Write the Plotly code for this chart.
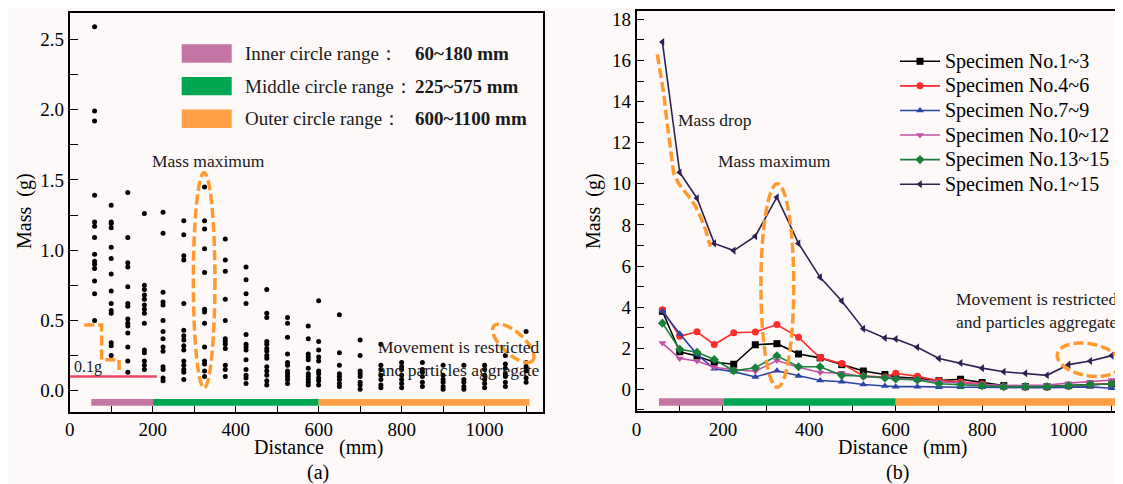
import numpy as np
import plotly.graph_objects as go

# page is 1123x484; the html body adds an 8px margin, so the figure is 1115x476
OFF = 8
FW, FH = 1123 - OFF, 484 - OFF
FONT = "Liberation Serif"
BG = "#fcf9f8"

# ---------------- data ----------------
distance = [60, 100, 140, 180, 225, 275, 325, 375, 425, 475, 525, 575, 600,
            650, 700, 750, 800, 850, 900, 950, 1000, 1050, 1100]

# (a) individual particle masses (g) collected at each distance
mass_points = [
    [2.59, 1.99, 1.92, 1.39, 1.20, 1.17, 1.09, 0.97, 0.92, 0.90, 0.87, 0.78, 0.69, 0.50],
    [1.32, 1.20, 1.19, 1.16, 1.02, 0.94, 0.83, 0.71, 0.62, 0.57, 0.55, 0.34, 0.32, 0.25],
    [1.41, 1.09, 0.91, 0.88, 0.74, 0.62, 0.60, 0.51, 0.48, 0.46, 0.41, 0.31, 0.21, 0.13],
    [1.26, 0.75, 0.72, 0.68, 0.65, 0.61, 0.58, 0.55, 0.48, 0.29, 0.27, 0.21, 0.18, 0.15],
    [1.27, 1.12, 0.70, 0.63, 0.61, 0.50, 0.42, 0.37, 0.31, 0.28, 0.17, 0.15, 0.09, 0.07],
    [1.21, 1.11, 0.96, 0.93, 0.62, 0.43, 0.39, 0.36, 0.32, 0.29, 0.21, 0.18, 0.15, 0.13, 0.08],
    [1.45, 1.21, 1.15, 1.01, 0.84, 0.58, 0.56, 0.48, 0.31, 0.21, 0.19, 0.14, 0.10],
    [1.08, 0.93, 0.85, 0.65, 0.50, 0.37, 0.35, 0.33, 0.30, 0.18, 0.15, 0.10],
    [0.88, 0.79, 0.69, 0.62, 0.40, 0.33, 0.31, 0.29, 0.22, 0.15, 0.11, 0.09, 0.05],
    [0.72, 0.55, 0.52, 0.35, 0.33, 0.30, 0.28, 0.25, 0.23, 0.17, 0.14, 0.11, 0.07, 0.04],
    [0.52, 0.48, 0.38, 0.26, 0.20, 0.18, 0.14, 0.12, 0.10, 0.08, 0.05],
    [0.46, 0.37, 0.26, 0.24, 0.22, 0.16, 0.12, 0.10, 0.08, 0.06, 0.04],
    [0.64, 0.35, 0.29, 0.24, 0.21, 0.14, 0.12, 0.09, 0.07, 0.04],
    [0.54, 0.27, 0.18, 0.12, 0.10, 0.08, 0.05, 0.03],
    [0.36, 0.25, 0.14, 0.12, 0.10, 0.06, 0.04, 0.01],
    [0.33, 0.18, 0.15, 0.11, 0.08, 0.04, 0.02],
    [0.20, 0.17, 0.15, 0.11, 0.08, 0.05, 0.02],
    [0.20, 0.15, 0.13, 0.10, 0.06, 0.03],
    [0.18, 0.11, 0.08, 0.06, 0.03, 0.01],
    [0.18, 0.08, 0.06, 0.03, 0.01],
    [0.18, 0.15, 0.11, 0.08, 0.05, 0.02],
    [0.25, 0.19, 0.16, 0.12, 0.10, 0.06, 0.03],
    [0.42, 0.20, 0.17, 0.14, 0.09, 0.06],
]

# (b) summed mass per specimen group (g)
spec_1_3 = [3.80, 1.83, 1.62, 1.32, 1.22, 2.17, 2.22, 1.72, 1.53, 1.20, 0.89, 0.72,
            0.60, 0.53, 0.42, 0.49, 0.33, 0.18, 0.13, 0.13, 0.18, 0.22, 0.27]
spec_4_6 = [3.87, 2.58, 2.80, 2.18, 2.75, 2.79, 3.15, 2.53, 1.53, 1.25, 0.65, 0.60,
            0.78, 0.63, 0.42, 0.36, 0.26, 0.13, 0.10, 0.10, 0.15, 0.20, 0.28]
spec_7_9 = [3.80, 2.70, 1.70, 1.00, 0.86, 0.60, 0.90, 0.65, 0.43, 0.37, 0.23, 0.16,
            0.13, 0.13, 0.10, 0.10, 0.10, 0.08, 0.08, 0.08, 0.10, 0.12, 0.05]
spec_10_12 = [2.25, 1.50, 1.38, 1.07, 0.95, 0.88, 1.40, 1.07, 0.82, 0.80, 0.60, 0.58,
              0.53, 0.48, 0.37, 0.32, 0.24, 0.18, 0.18, 0.21, 0.30, 0.37, 0.45]
spec_13_15 = [3.22, 1.95, 1.80, 1.45, 0.90, 1.05, 1.63, 1.10, 1.10, 0.68, 0.65, 0.55,
              0.50, 0.45, 0.27, 0.22, 0.18, 0.13, 0.13, 0.13, 0.18, 0.24, 0.27]
spec_1_15 = [16.9, 10.55, 9.30, 7.10, 6.75, 7.45, 9.35, 7.10, 5.45, 4.30, 2.95, 2.50,
             2.45, 2.05, 1.50, 1.28, 1.03, 0.85, 0.78, 0.68, 1.20, 1.38, 1.64]

series_names = ["Specimen No.1~3", "Specimen No.4~6", "Specimen No.7~9",
                "Specimen No.10~12", "Specimen No.13~15", "Specimen No.1~15"]

range_names = ["Inner circle range：", "Middle circle range：", "Outer circle range："]
range_labels = ["60~180 mm", "225~575 mm", "600~1100 mm"]
range_bounds = [52, 201, 600, 1108]

# ---------------- style ----------------
series_colors = ["#000000", "#ff2a2a", "#2b44a6", "#c24fa8", "#17803a", "#2d2152"]
series_symbols = ["square", "circle", "triangle-up", "triangle-down", "diamond", "triangle-left"]
range_colors = ["#c475a3", "#00a651", "#ff9f43"]
ORANGE = "#ff9a30"
DASH = "10px,4px"

# axis geometry (pixels in the 1123x484 screenshot)
LX0, LX1, LY0, LY1 = 69.7, 542.7, 12.7, 411.7
RX0, RX1, RY0, RY1 = 636.5, 1123.0, 11.0, 411.0
L_XR, L_YR = [0, 1140], [-0.15, 2.69]
R_XR, R_YR = [0, 1126], [-1.056, 18.41]


def px(x):
    return (x - OFF) / FW


def py(y):
    return 1 - (y - OFF) / FH


def ellipse_path(cx, cy, a_px, b_px, ang_deg, x0, x1, y0, y1, xr, yr):
    sx = (x1 - x0) / (xr[1] - xr[0])
    sy = (y1 - y0) / (yr[1] - yr[0])
    t = np.linspace(0, 2 * np.pi, 73)
    ang = np.radians(ang_deg)
    dx = a_px * np.cos(t) * np.cos(ang) - b_px * np.sin(t) * np.sin(ang)
    dy = a_px * np.cos(t) * np.sin(ang) + b_px * np.sin(t) * np.cos(ang)
    xs = cx + dx / sx
    ys = cy + dy / sy
    return "M " + " L ".join(f"{a:.3f},{b:.4f}" for a, b in zip(xs, ys)) + " Z"


fig = go.Figure()

# (a) scatter
xs_a, ys_a = [], []
for d, col in zip(distance, mass_points):
    xs_a += [d] * len(col)
    ys_a += col
fig.add_trace(go.Scatter(x=xs_a, y=ys_a, mode="markers",
                         marker=dict(color="black", size=5),
                         xaxis="x", yaxis="y", showlegend=False))

# (b) lines
for name, vals, c, s in zip(series_names,
                            [spec_1_3, spec_4_6, spec_7_9, spec_10_12, spec_13_15, spec_1_15],
                            series_colors, series_symbols):
    fig.add_trace(go.Scatter(x=distance, y=vals, mode="lines+markers",
                             name='<span style="font-size:20px">' + name + "</span>",
                             line=dict(color=c, width=1.6),
                             marker=dict(symbol=s, size=7, color=c),
                             xaxis="x2", yaxis="y2"))

axis_common = dict(showline=True, linecolor="black", linewidth=1.6, mirror=True,
                   ticks="inside", tickcolor="black", tickwidth=1.4,
                   showgrid=False, zeroline=False, automargin=False,
                   tickfont=dict(family=FONT, size=19, color="black"))

fig.update_layout(
    width=FW, height=FH,
    margin=dict(l=0, r=0, t=0, b=0),
    paper_bgcolor=BG, plot_bgcolor=BG,
    xaxis=dict(axis_common, domain=[px(LX0), px(LX1)], range=L_XR, anchor="y",
               tick0=0, dtick=200, ticklen=6,
               minor=dict(ticks="inside", dtick=100, ticklen=6, tickcolor="black", tickwidth=1.4)),
    yaxis=dict(axis_common, domain=[py(LY1), py(LY0)], range=L_YR, anchor="x",
               tick0=0, dtick=0.5, tickformat=".1f", ticklen=8,
               minor=dict(ticks="inside", dtick=0.25, ticklen=8, tickcolor="black", tickwidth=1.4)),
    xaxis2=dict(axis_common, domain=[px(RX0), 1.0], range=R_XR, anchor="y2",
                tick0=0, dtick=200, ticklen=6,
                minor=dict(ticks="inside", dtick=100, ticklen=6, tickcolor="black", tickwidth=1.4)),
    yaxis2=dict(axis_common, domain=[py(RY1), py(RY0)], range=R_YR, anchor="x2",
                tick0=0, dtick=2, ticklen=8,
                minor=dict(ticks="inside", dtick=1, ticklen=8, tickcolor="black", tickwidth=1.4)),
    legend=dict(x=px(895), y=py(44), xanchor="left", yanchor="top",
                font=dict(family=FONT, size=16.6, color="black"),
                bgcolor="rgba(0,0,0,0)", tracegroupgap=0, itemwidth=40),
    showlegend=True,
)

shapes = []
# range bars in both panels
for xref, yref, y0, y1 in [("x", "y", -0.107, -0.059), ("x2", "y2", -0.80, -0.44)]:
    for i, c in enumerate(range_colors):
        shapes.append(dict(type="rect", xref=xref, yref=yref,
                           x0=range_bounds[i], x1=range_bounds[i + 1], y0=y0, y1=y1,
                           fillcolor=c, line=dict(width=0), layer="above"))

# left legend swatches
for i, c in enumerate(range_colors):
    top = 44.3 + i * 32.6
    shapes.append(dict(type="rect", xref="paper", yref="paper",
                       x0=px(181.7), x1=px(231.7), y0=py(top + 18.4), y1=py(top),
                       fillcolor=c, line=dict(width=0)))

# 0.1 g reference line
shapes.append(dict(type="line", xref="x", yref="y", x0=0, x1=210, y0=0.1, y1=0.1,
                   line=dict(color="#ef4466", width=2.5)))
# stepped dashed mark near 0.1 g
shapes.append(dict(type="path", xref="x", yref="y",
                   path="M 35,0.468 L 77,0.468 L 77,0.219 L 119,0.219 L 119,0.12",
                   line=dict(color=ORANGE, width=3.5, dash=DASH)))
# ellipses (a)
shapes.append(dict(type="circle", xref="x", yref="y", x0=298, x1=350, y0=0.02, y1=1.55,
                   line=dict(color=ORANGE, width=3.5, dash=DASH)))
shapes.append(dict(type="path", xref="x", yref="y",
                   path=ellipse_path(1069, 0.337, 26, 11, 42, LX0, LX1, LY1, LY0, L_XR, L_YR),
                   line=dict(color=ORANGE, width=3.5, dash=DASH)))
# ellipses (b)
shapes.append(dict(type="circle", xref="x2", yref="y2", x0=288, x1=364, y0=0.1, y1=10.0,
                   line=dict(color=ORANGE, width=3.5, dash=DASH)))
shapes.append(dict(type="path", xref="x2", yref="y2",
                   path=ellipse_path(1047, 1.44, 32, 16, 10, RX0, RX1, RY1, RY0, R_XR, R_YR),
                   line=dict(color=ORANGE, width=3.5, dash=DASH)))
# mass-drop dashed curve (b)
shapes.append(dict(type="path", xref="x2", yref="y2",
                   path="M 48,16.3 L 56,15.3 L 63,14.4 L 70,13.1 L 77,12.0 L 86,10.5 "
                        "L 98,10.0 L 109,9.7 L 124,9.3 L 137,8.9 L 150,8.3 L 160,7.75 L 171,6.95",
                   line=dict(color=ORANGE, width=3.5, dash=DASH)))

fig.update_layout(shapes=shapes)

ann = []
tf = dict(family=FONT, size=17.5, color="#1a1a1a")
for i in range(3):
    yc = 53.5 + i * 32.6
    ann.append(dict(x=px(243), y=py(yc), xref="paper", yref="paper", text=range_names[i],
                    showarrow=False, xanchor="left", yanchor="middle",
                    font=dict(family=FONT, size=19, color="#1a1a1a")))
    ann.append(dict(x=px(413), y=py(yc), xref="paper", yref="paper",
                    text="<b>" + range_labels[i] + "</b>",
                    showarrow=False, xanchor="left", yanchor="middle",
                    font=dict(family=FONT, size=19, color="#1a1a1a")))

ann += [
    dict(x=px(208), y=py(161.5), text="Mass maximum"),
    dict(x=px(774), y=py(161.5), text="Mass maximum"),
    dict(x=px(676), y=py(120), text="Mass drop", xanchor="left"),
    dict(x=px(458.5), y=py(358.5), text="Movement is restricted<br>and particles aggregate"),
    dict(x=px(1036.5), y=py(310.5), text="Movement is restricted<br>and particles aggregate"),
    dict(x=px(88), y=py(367), text="0.1g", font=dict(family=FONT, size=16, color="#1a1a1a")),
]
for a in ann[6:]:
    a.setdefault("xref", "paper")
    a.setdefault("yref", "paper")
    a.setdefault("showarrow", False)
    a.setdefault("xanchor", "center")
    a.setdefault("yanchor", "middle")
    a.setdefault("font", tf)

title_font = dict(family=FONT, size=20, color="black")
ann += [
    dict(x=px(24), y=py(211), text="Mass  (g)", textangle=-90),
    dict(x=px(593), y=py(211), text="Mass  (g)", textangle=-90),
    dict(x=px(318), y=py(447), text="Distance   (mm)"),
    dict(x=px(902), y=py(447), text="Distance   (mm)"),
    dict(x=px(318), y=py(472), text="(a)"),
    dict(x=px(897), y=py(472), text="(b)"),
]
for a in ann[-6:]:
    a.update(xref="paper", yref="paper", showarrow=False, xanchor="center",
             yanchor="middle", font=title_font)

fig.update_layout(annotations=ann)

fig.write_html("out.html")
